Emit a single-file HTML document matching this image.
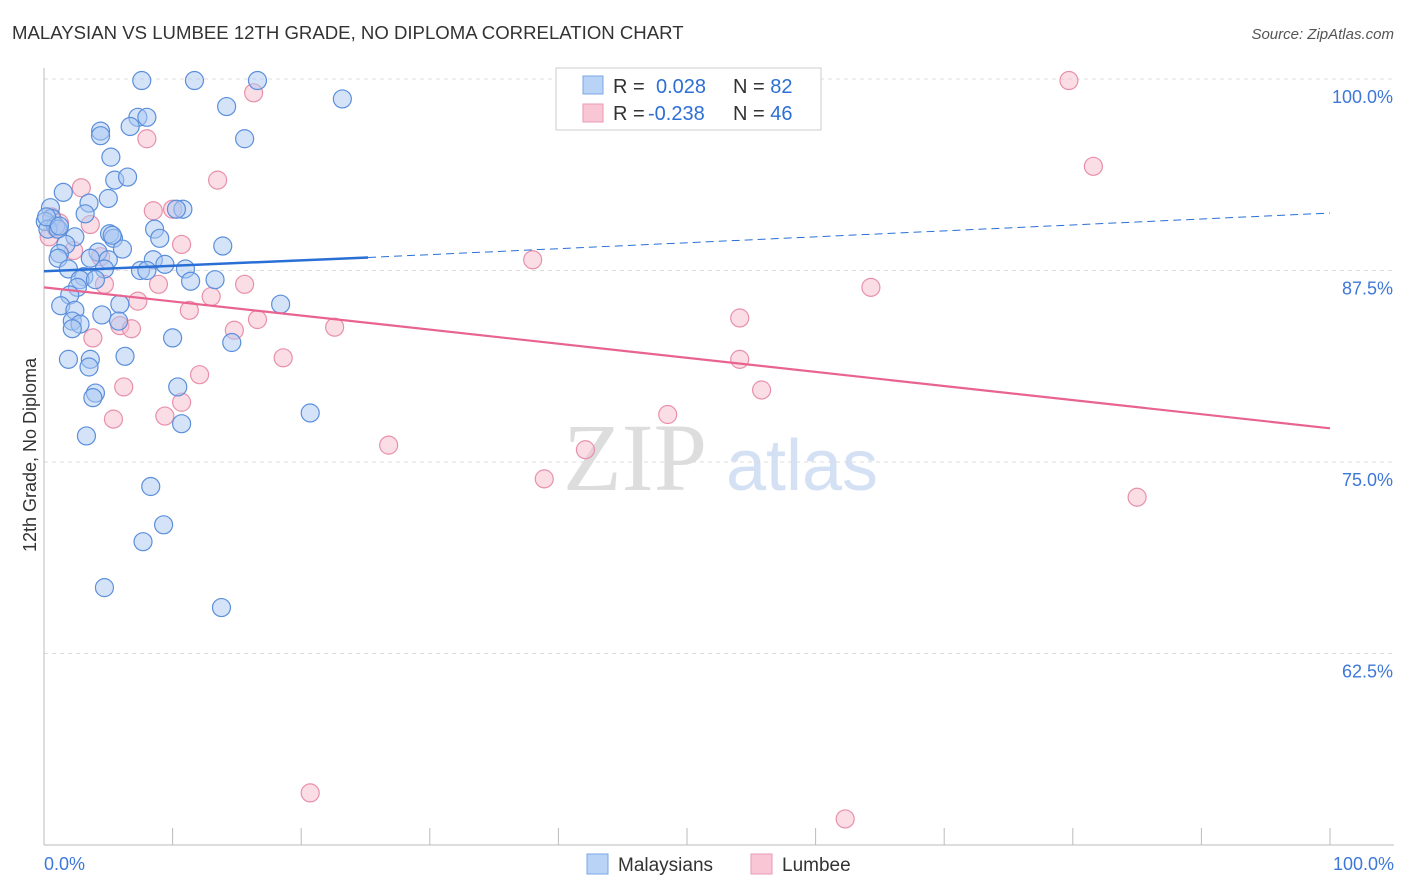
<!DOCTYPE html>
<html><head><meta charset="utf-8"><style>
body{margin:0;background:#fff;font-family:"Liberation Sans",sans-serif;}
svg{display:block}
</style></head><body>
<svg id="chart" width="1406" height="892">
<text x="12" y="39" font-size="18.6" fill="#333">MALAYSIAN VS LUMBEE 12TH GRADE, NO DIPLOMA CORRELATION CHART</text>
<text x="1394" y="39" font-size="15" fill="#555" font-style="italic" text-anchor="end">Source: ZipAtlas.com</text>
<text x="36" y="455" font-size="18" fill="#333" text-anchor="middle" transform="rotate(-90 36 455)">12th Grade, No Diploma</text>
<g>
<text x="635" y="490" font-size="96" fill="#ddd" font-family="Liberation Serif,serif" text-anchor="middle">ZIP</text>
<text x="802" y="490" font-size="72" fill="#d4e0f3" text-anchor="middle">atlas</text>
</g>
<g id="grid"></g><g id="axes"></g><g id="points"></g><g id="lines"></g>
<g>
<rect x="556" y="68" width="265" height="62" fill="#fff" stroke="#ccc"/>
<rect x="583" y="76" width="20" height="18" fill="#b9d3f6" stroke="#7aa6e6"/>
<rect x="583" y="104" width="20" height="18" fill="#f9c6d5" stroke="#ea9ab3"/>
<text x="613" y="93" font-size="20" fill="#333">R = <tspan fill="#2d6fd4" x="656">0.028</tspan><tspan fill="#333" x="733">N = </tspan><tspan fill="#2d6fd4">82</tspan></text>
<text x="613" y="120" font-size="20" fill="#333">R = <tspan fill="#2d6fd4" x="648">-0.238</tspan><tspan fill="#333" x="733">N = </tspan><tspan fill="#2d6fd4">46</tspan></text>
</g>
<g>
<rect x="587" y="854" width="21" height="20" fill="#b9d3f6" stroke="#7aa6e6"/>
<text x="618" y="871" font-size="19" fill="#333">Malaysians</text>
<rect x="751" y="854" width="21" height="20" fill="#f9c6d5" stroke="#ea9ab3"/>
<text x="782" y="871" font-size="19" fill="#333">Lumbee</text>
</g>
</svg>
<script>
const yTicks=[100,87.5,75,62.5];
const yTickLabels=["100.0%","87.5%","75.0%","62.5%"];
const xTickLabels=["0.0%","100.0%"];
const blueX=[7.6,11.7,16.6,23.2,14.2,7.3,8.0,6.7,4.4,4.4,15.6,5.2,5.5,6.5,1.5,5.0,3.5,0.5,3.2,10.8,10.3,0.6,0.1,0.9,0.3,1.1,5.1,8.6,2.4,5.4,9.0,1.7,13.9,6.1,4.2,1.2,1.1,5.0,8.5,9.4,1.9,4.7,7.5,8.0,11.0,3.1,2.8,4.0,13.3,11.4,2.6,2.0,5.9,1.3,18.4,2.4,4.5,2.2,5.8,2.8,2.2,10.0,14.6,1.9,3.6,6.3,3.5,10.4,4.0,3.8,20.7,10.7,3.3,8.3,9.3,7.7,4.7,13.8,0.2,1.2,3.6,5.3];
const blueY=[99.9,99.9,99.9,98.7,98.2,97.5,97.5,96.9,96.6,96.3,96.1,94.9,93.4,93.6,92.6,92.2,91.9,91.6,91.2,91.5,91.5,90.9,90.7,90.4,90.2,90.2,89.9,90.2,89.7,89.6,89.6,89.2,89.1,88.9,88.7,88.6,88.3,88.2,88.2,87.9,87.6,87.6,87.5,87.5,87.6,87.1,86.9,86.9,86.9,86.8,86.4,85.9,85.3,85.2,85.3,84.9,84.6,84.2,84.2,84.0,83.7,83.1,82.8,81.7,81.7,81.9,81.2,79.9,79.5,79.2,78.2,77.5,76.7,73.4,70.9,69.8,66.8,65.5,91.0,90.4,88.3,89.8];
const pinkX=[79.7,16.3,81.6,8.0,13.5,2.9,8.5,10.0,0.6,1.2,3.6,0.4,2.3,10.7,38.0,4.4,64.3,8.9,4.7,15.6,13.0,7.3,11.3,16.6,54.1,5.9,6.8,14.8,22.6,3.8,18.6,54.1,12.1,6.2,55.8,10.7,9.4,5.4,48.5,26.8,42.1,38.9,85.0,20.7,62.3,1.0];
const pinkY=[99.9,99.1,94.3,96.1,93.4,92.9,91.4,91.5,91.0,90.6,90.5,89.7,88.8,89.2,88.2,88.4,86.4,86.6,86.6,86.6,85.8,85.5,84.9,84.3,84.4,83.9,83.7,83.6,83.8,83.1,81.8,81.7,80.7,79.9,79.7,78.9,78.0,77.8,78.1,76.1,75.8,73.9,72.7,53.4,51.7,90.2];
const blueFit=[0,87.45,25.2,88.35,100,91.25];
const pinkFit=[0,86.4,100,77.2];
const NS="http://www.w3.org/2000/svg";
const X0=44,X1=1330,Y100=79,Ystep=191.5/12.5;
const sx=v=>X0+(X1-X0)*v/100, sy=v=>Y100+(100-v)*Ystep;
function mk(tag,attrs,parent){const e=document.createElementNS(NS,tag);for(const k in attrs)e.setAttribute(k,attrs[k]);document.getElementById(parent).appendChild(e);return e;}
yTicks.forEach((t,i)=>{
 const g=mk('line',{x1:44,x2:1394,y1:sy(t),y2:sy(t),stroke:'#ddd','stroke-dasharray':'4,4'},'grid');
 
 
 const l=mk('text',{x:1393,y:sy(t)+24,'font-size':18,fill:'#3d78d8','text-anchor':'end'},'axes');
 l.textContent=yTickLabels[i];
 
 
});
const ax=mk('line',{x1:44,x2:44,y1:68,y2:845,stroke:'#bbb'},'axes');


const bx=mk('line',{x1:44,x2:1394,y1:845,y2:845,stroke:'#bbb'},'axes');


for(let i=0;i<=10;i++){const t=mk('line',{x1:sx(i*10),x2:sx(i*10),y1:828,y2:845,stroke:'#bbb'},'axes');
 
 }
[[0,'start',44],[100,'end',1394]].forEach((a,i)=>{const t=mk('text',{x:a[2],y:870,'font-size':18,fill:'#3d78d8','text-anchor':a[1]},'axes');t.textContent=xTickLabels[i];
 
 });
function pts(xs,ys,fill,stroke,name){xs.forEach((x,i)=>{const c=mk('circle',{cx:sx(x),cy:sy(ys[i]),r:9,fill:fill,'fill-opacity':0.5,stroke:stroke,'stroke-width':1.2},'points');
 
 });}
pts(pinkX,pinkY,'#f7bccd','#e890ab','lumbee-point');
pts(blueX,blueY,'#aac8f2','#5b8fdc','malaysian-point');
let l1=mk('line',{x1:sx(blueFit[0]),y1:sy(blueFit[1]),x2:sx(blueFit[2]),y2:sy(blueFit[3]),stroke:'#2a6fd6','stroke-width':2.5},'lines');


let l2=mk('line',{x1:sx(blueFit[2]),y1:sy(blueFit[3]),x2:sx(blueFit[4]),y2:sy(blueFit[5]),stroke:'#2a6fd6','stroke-width':1,'stroke-dasharray':'8,5'},'lines');


let l3=mk('line',{x1:sx(pinkFit[0]),y1:sy(pinkFit[1]),x2:sx(pinkFit[2]),y2:sy(pinkFit[3]),stroke:'#e8638f','stroke-width':2.2},'lines');


</script>
</body></html>
